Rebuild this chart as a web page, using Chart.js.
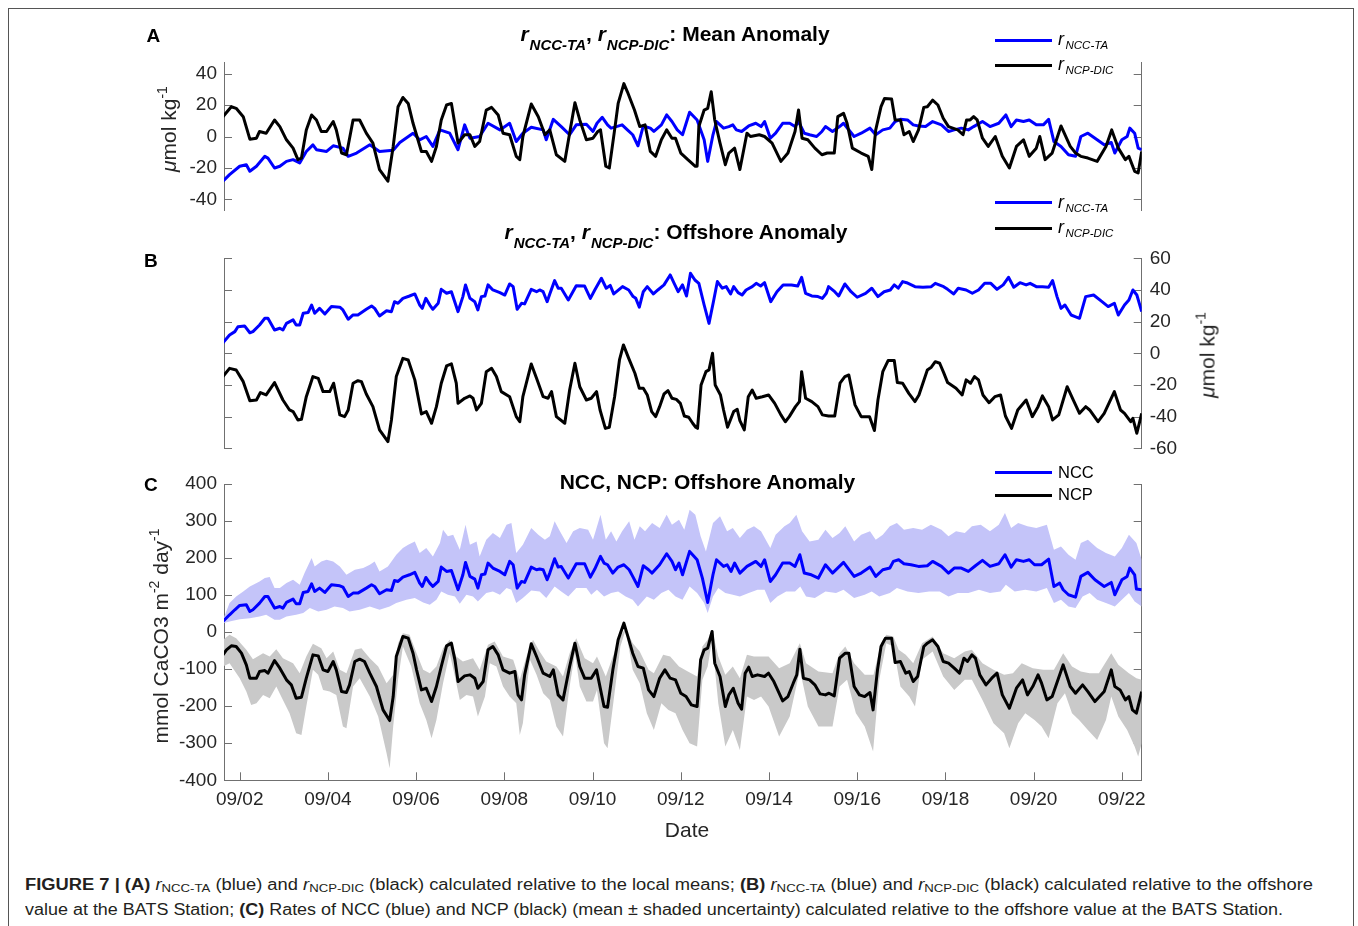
<!DOCTYPE html>
<html lang="en">
<head>
<meta charset="UTF-8">
<title>Figure 7 – rNCC-TA, rNCP-DIC, NCC and NCP anomalies</title>
<script src="https://cdn.jsdelivr.net/npm/chart.js"></script>
<style>
  body { margin: 0; background: #fff; font-family: "Liberation Sans", Arial, Helvetica, sans-serif; color: #262626; }
  #page { position: relative; width: 1358px; height: 926px; overflow: hidden; background: #fff; }
  #frame { position: absolute; left: 8px; top: 8px; width: 1344px; height: 1000px; border: 1px solid #555; border-bottom: none; }
  canvas { position: absolute; left: 0; }
  .txt { position: absolute; white-space: nowrap; line-height: 1; z-index: 2; }
  .ttl { font-weight: bold; font-size: 21px; transform: translateX(-50%); color: #000; }
  .ttl i { font-style: italic; }
  .ttl sub { font-size: 15px; font-style: italic; vertical-align: -9px; line-height: 0; margin-left: 1px; }
  .lbl { font-weight: bold; font-size: 19px; color: #000; }
  .leg { font-size: 18px; font-style: italic; color: #000; }
  .leg sub { font-size: 11.5px; vertical-align: -4.3px; line-height: 0; margin-left: 1.5px; }
  .leg2 { font-size: 16.5px; color: #000; }
  .legline { position: absolute; left: 995px; width: 57px; height: 3px; z-index: 2; }
  .ytl { font-size: 21px; transform: translate(-50%, -50%) rotate(-90deg); }
  .ytl sup { font-size: 14px; vertical-align: 9px; line-height: 0; }
  .cap { font-family: "Liberation Sans Narrow", "Liberation Sans", Arial, sans-serif; font-size: 16px; color: #231f20; transform-origin: 0 0; }
  .cap sub { font-size: 11.5px; vertical-align: -2px; line-height: 0; }
</style>
</head>
<body>
<div id="page">
  <div id="frame"></div>
  <canvas id="chartA"></canvas>
  <canvas id="chartB"></canvas>
  <canvas id="chartC"></canvas>

  <div class="txt lbl" style="left:146.5px; top:25.6px">A</div>
  <div class="txt lbl" style="left:144px; top:251.4px">B</div>
  <div class="txt lbl" style="left:144px; top:474.6px">C</div>

  <div class="txt ttl" style="left:675px; top:22.7px"><i>r</i><sub>NCC-TA</sub>, <i>r</i><sub>NCP-DIC</sub>: Mean Anomaly</div>
  <div class="txt ttl" style="left:676px; top:220.7px"><i>r</i><sub>NCC-TA</sub>, <i>r</i><sub>NCP-DIC</sub>: Offshore Anomaly</div>
  <div class="txt ttl" style="left:707.5px; top:470.7px">NCC, NCP: Offshore Anomaly</div>

  <div class="legline" style="top:38.5px; background:#0000ff"></div>
  <div class="txt leg" style="left:1058px; top:29.8px">r<sub>NCC-TA</sub></div>
  <div class="legline" style="top:63.5px; background:#000"></div>
  <div class="txt leg" style="left:1058px; top:54.8px">r<sub>NCP-DIC</sub></div>

  <div class="legline" style="top:201.2px; background:#0000ff"></div>
  <div class="txt leg" style="left:1058px; top:192.5px">r<sub>NCC-TA</sub></div>
  <div class="legline" style="top:226.8px; background:#000"></div>
  <div class="txt leg" style="left:1058px; top:218.1px">r<sub>NCP-DIC</sub></div>

  <div class="legline" style="top:471px; background:#0000ff"></div>
  <div class="txt leg2" style="left:1058px; top:464.3px">NCC</div>
  <div class="legline" style="top:493.5px; background:#000"></div>
  <div class="txt leg2" style="left:1058px; top:486px">NCP</div>

  <div class="txt ytl" style="left:168px; top:129px"><i>μ</i>mol kg<sup>-1</sup></div>
  <div class="txt ytl" style="left:1207px; top:355px"><i>μ</i>mol kg<sup>-1</sup></div>
  <div class="txt ytl" style="left:160px; top:636px">mmol CaCO3 m<sup>-2</sup> day<sup>-1</sup></div>
  <div class="txt" style="left:687px; top:818.9px; font-size:21px; transform:translateX(-50%)">Date</div>

  <div class="txt cap" id="cap1" style="left:25px; top:876.5px"><b>FIGURE 7 | (A)</b> <i>r</i><sub>NCC-TA</sub> (blue) and <i>r</i><sub>NCP-DIC</sub> (black) calculated relative to the local means; <b>(B)</b> <i>r</i><sub>NCC-TA</sub> (blue) and <i>r</i><sub>NCP-DIC</sub> (black) calculated relative to the offshore</div>
  <div class="txt cap" id="cap2" style="left:25px; top:901.5px">value at the BATS Station; <b>(C)</b> Rates of NCC (blue) and NCP (black) (mean ± shaded uncertainty) calculated relative to the offshore value at the BATS Station.</div>
</div>

<script>
// ticks and labels
const aTicks = [-40, -20, 0, 20, 40];
const bTicks = [-60, -40, -20, 0, 20, 40, 60];
const cTicks = [-400, -300, -200, -100, 0, 100, 200, 300, 400];
const dateTicks = [2, 4, 6, 8, 10, 12, 14, 16, 18, 20, 22];
const dateLabels = ['09/02', '09/04', '09/06', '09/08', '09/10', '09/12', '09/14', '09/16', '09/18', '09/20', '09/22'];

// [day of September, value]
// (A) mean anomaly, umol/kg
const aNcc = [[1.62,-28.4],[1.77,-24.2],[2.00,-18.9],[2.15,-17.9],[2.23,-22.1],[2.38,-18.9],[2.57,-12.6],[2.64,-13.7],[2.79,-20.0],[2.91,-18.9],[3.06,-15.8],[3.21,-14.7],[3.36,-16.8],[3.51,-9.5],[3.66,-5.3],[3.74,-8.4],[3.97,-9.5],[4.12,-5.9],[4.34,-7.4],[4.46,-12.6],[4.65,-10.5],[4.95,-5.3],[5.17,-9.5],[5.48,-8.8],[5.63,-3.8],[5.93,2.1],[6.08,-2.1],[6.23,0],[6.38,-6.3],[6.54,4.2],[6.76,2.1],[6.95,-8.4],[7.10,7.4],[7.22,-1.1],[7.44,0],[7.63,8.4],[7.90,4.2],[8.12,8.4],[8.27,-3.2],[8.42,2.1],[8.61,5.9],[8.88,4.2],[8.95,-2.1],[9.11,10.9],[9.29,6.3],[9.48,1.1],[9.63,7.4],[9.86,7.8],[10.01,3.2],[10.10,8.4],[10.22,12.2],[10.34,7.4],[10.42,5.3],[10.54,6.3],[10.67,7.4],[10.79,4.2],[10.91,1.1],[11.03,-5.9],[11.15,6.7],[11.31,5.3],[11.39,3.2],[11.56,7.4],[11.68,13.7],[11.80,9.5],[11.92,4.2],[12.04,1.1],[12.20,15.4],[12.37,10.5],[12.53,-2.1],[12.61,-15.8],[12.73,1.1],[12.81,9.5],[12.97,5.3],[13.09,6.3],[13.18,7.4],[13.26,4.2],[13.38,3.2],[13.54,6.7],[13.70,8.4],[13.82,6.3],[13.90,9.5],[14.03,-1.1],[14.15,2.1],[14.31,8.4],[14.47,8.4],[14.59,6.3],[14.67,9.5],[14.80,2.1],[14.92,1.1],[15.08,0],[15.20,3.2],[15.28,6.3],[15.44,3.2],[15.60,6.3],[15.69,8.4],[15.93,0],[16.09,2.1],[16.29,5.3],[16.42,1.1],[16.58,4.2],[16.74,5.3],[16.86,9.5],[16.98,10.9],[17.14,10.5],[17.27,7.4],[17.39,6.7],[17.55,6.3],[17.71,9.5],[17.91,7.4],[18.07,3.2],[18.20,4.2],[18.36,5.3],[18.52,4.2],[18.64,6.3],[18.84,9.5],[19.01,6.3],[19.21,8.4],[19.37,13.7],[19.49,6.3],[19.61,10.5],[19.77,9.5],[19.90,10.5],[20.06,7.4],[20.22,7.4],[20.34,10.9],[20.46,-3.2],[20.62,-6.3],[20.79,-11.6],[20.95,-12.6],[21.07,0],[21.23,2.1],[21.44,-2.1],[21.60,-5.3],[21.76,-3.8],[21.84,-10.5],[22.00,-2.1],[22.12,0],[22.18,5.3],[22.29,2.1],[22.37,-7.4],[22.45,-8.4]];
const aNcp = [[1.62,12.6],[1.81,18.9],[1.92,17.9],[2.08,12.6],[2.23,-1.7],[2.38,-1.1],[2.45,3.2],[2.60,2.1],[2.79,10.5],[2.91,6.3],[3.06,-2.1],[3.21,-7.4],[3.32,-14.7],[3.40,-13.7],[3.51,4.2],[3.63,13.7],[3.74,10.5],[3.85,3.2],[3.97,3.2],[4.12,9.5],[4.19,4.2],[4.31,-10.5],[4.42,-11.6],[4.57,10.5],[4.72,10.5],[4.87,2.1],[5.02,-4.2],[5.17,-21.0],[5.36,-28.4],[5.48,-6.3],[5.59,18.9],[5.70,24.8],[5.82,21.0],[5.93,8.4],[6.12,-9.5],[6.23,-9.5],[6.35,-15.8],[6.46,-6.3],[6.57,10.5],[6.69,20.0],[6.80,21.0],[6.95,-4.2],[7.10,1.1],[7.22,1.1],[7.33,-6.3],[7.44,-3.2],[7.59,16.8],[7.71,18.5],[7.86,13.7],[7.97,2.1],[8.12,1.1],[8.27,-12.6],[8.35,-14.7],[8.42,0],[8.61,20.6],[8.77,12.6],[8.92,1.1],[9.03,4.2],[9.18,-11.6],[9.37,-15.8],[9.48,2.1],[9.60,21.5],[9.71,10.5],[9.86,-2.1],[10.01,-1.1],[10.12,3.2],[10.18,4.2],[10.30,-18.9],[10.38,-20.0],[10.50,4.2],[10.58,21.0],[10.71,33.6],[10.79,28.4],[10.95,16.8],[11.07,6.3],[11.19,7.4],[11.31,-9.5],[11.43,-12.6],[11.56,-2.1],[11.68,4.2],[11.80,-1.1],[11.88,-1.1],[12.00,-10.5],[12.16,-14.7],[12.33,-18.9],[12.37,-18.9],[12.41,6.3],[12.53,16.8],[12.61,17.9],[12.69,28.4],[12.77,10.5],[12.89,-4.2],[13.01,-17.9],[13.09,-10.5],[13.22,-7.4],[13.34,-21.0],[13.50,2.1],[13.58,0],[13.78,1.1],[13.90,0],[14.07,-4.2],[14.27,-15.8],[14.43,-10.5],[14.59,3.2],[14.67,16.8],[14.75,-1.1],[14.88,-2.1],[15.04,-7.4],[15.20,-11.6],[15.32,-10.5],[15.48,-10.5],[15.56,12.6],[15.69,14.7],[15.77,8.4],[15.89,-7.4],[16.09,-10.5],[16.25,-12.6],[16.33,-21.0],[16.42,4.2],[16.54,19.0],[16.62,24.2],[16.78,23.8],[16.86,10.5],[16.98,10.5],[17.06,1.1],[17.18,3.2],[17.27,-3.2],[17.39,4.2],[17.51,18.5],[17.59,18.9],[17.71,23.1],[17.83,20.0],[17.95,11.6],[18.07,6.3],[18.28,4.2],[18.40,1.1],[18.48,10.5],[18.56,10.5],[18.64,12.6],[18.72,10.5],[18.84,-1.1],[18.97,-6.3],[19.13,0],[19.29,-12.6],[19.45,-20.0],[19.61,-6.3],[19.77,-2.1],[19.90,-12.6],[20.06,-7.4],[20.14,0],[20.26,-14.7],[20.42,-10.5],[20.62,6.7],[20.83,-6.3],[20.95,-10.5],[21.07,-12.6],[21.23,-13.7],[21.44,-15.8],[21.64,-6.3],[21.77,4.2],[21.92,-7.4],[22.08,-14.7],[22.16,-12.6],[22.29,-22.1],[22.37,-23.1],[22.45,-9.5]];

// (B) offshore anomaly, umol/kg
const bNcc = [[1.62,6.7],[1.77,11.6],[1.89,13.7],[1.96,16.8],[2.11,17.3],[2.23,13.0],[2.30,13.7],[2.45,17.9],[2.57,22.1],[2.64,22.1],[2.79,14.7],[2.91,15.8],[2.98,14.7],[3.06,18.9],[3.21,21.1],[3.28,17.9],[3.36,17.9],[3.44,25.3],[3.55,25.7],[3.63,30.5],[3.70,25.3],[3.81,28.4],[3.93,24.8],[4.08,29.5],[4.27,29.1],[4.34,27.4],[4.46,21.5],[4.57,24.2],[4.68,24.2],[4.87,27.8],[4.99,29.9],[5.06,28.4],[5.17,23.6],[5.33,26.9],[5.44,26.3],[5.51,32.6],[5.59,31.6],[5.70,34.7],[5.85,36.2],[5.97,37.5],[6.08,30.5],[6.14,28.4],[6.22,34.7],[6.31,30.5],[6.38,27.8],[6.50,31.6],[6.57,40.4],[6.69,37.9],[6.80,38.9],[6.95,26.3],[7.06,35.8],[7.12,43.2],[7.22,34.7],[7.33,32.6],[7.40,27.4],[7.48,35.8],[7.56,36.2],[7.63,43.2],[7.74,40.0],[7.90,38.3],[8.01,36.8],[8.12,43.8],[8.20,42.1],[8.29,27.8],[8.39,31.6],[8.46,31.2],[8.61,40.4],[8.73,38.9],[8.80,40.0],[8.88,38.9],[8.97,32.6],[9.03,37.5],[9.14,45.9],[9.22,41.1],[9.29,41.1],[9.45,33.7],[9.63,42.7],[9.82,42.5],[9.95,34.7],[10.05,40.0],[10.20,47.4],[10.31,41.1],[10.40,42.9],[10.48,37.5],[10.68,42.1],[10.82,40.0],[10.92,35.8],[10.98,34.7],[11.06,29.1],[11.15,38.9],[11.24,42.1],[11.38,37.5],[11.48,40.0],[11.62,43.2],[11.76,49.5],[11.85,44.2],[11.94,38.9],[12.04,43.2],[12.13,36.2],[12.22,50.5],[12.32,46.3],[12.41,44.2],[12.53,30.5],[12.64,18.9],[12.74,32.6],[12.83,45.3],[12.94,41.1],[13.03,42.1],[13.13,37.5],[13.20,42.1],[13.30,38.3],[13.39,36.8],[13.48,40.0],[13.62,42.1],[13.71,44.2],[13.81,42.5],[13.90,44.6],[14.04,32.6],[14.18,38.9],[14.32,43.2],[14.51,43.2],[14.65,42.5],[14.74,48.0],[14.83,37.9],[14.97,36.2],[15.11,35.8],[15.21,34.7],[15.30,37.9],[15.35,42.1],[15.49,38.9],[15.58,36.2],[15.72,43.8],[15.86,38.9],[16.00,35.4],[16.19,37.9],[16.33,41.1],[16.47,35.8],[16.61,38.9],[16.75,40.0],[16.84,43.2],[16.93,41.1],[17.03,45.3],[17.12,44.6],[17.31,42.1],[17.49,41.7],[17.68,42.1],[17.77,44.2],[17.96,42.1],[18.05,40.4],[18.19,37.5],[18.29,41.1],[18.47,40.0],[18.61,37.9],[18.75,40.0],[18.89,44.2],[19.03,44.2],[19.17,40.4],[19.31,43.2],[19.43,48.0],[19.55,41.7],[19.69,44.6],[19.83,43.2],[19.92,44.2],[20.06,42.1],[20.20,42.1],[20.34,41.7],[20.43,45.9],[20.53,35.8],[20.62,28.4],[20.71,30.5],[20.85,24.2],[20.94,23.2],[21.04,22.1],[21.18,35.8],[21.36,36.8],[21.55,32.6],[21.69,29.5],[21.83,31.6],[21.92,24.2],[22.06,30.5],[22.16,33.7],[22.25,40.0],[22.34,36.8],[22.45,26.3]];
const bNcp = [[1.62,-14.7],[1.77,-9.5],[1.92,-10.5],[2.08,-17.9],[2.23,-29.9],[2.38,-29.5],[2.47,-24.8],[2.60,-26.3],[2.79,-18.5],[2.98,-29.5],[3.13,-35.8],[3.21,-36.8],[3.32,-42.1],[3.40,-41.7],[3.51,-27.4],[3.66,-14.7],[3.78,-15.8],[3.89,-24.2],[4.04,-24.2],[4.13,-18.9],[4.27,-38.9],[4.38,-40.0],[4.46,-35.8],[4.57,-18.9],[4.68,-17.3],[4.76,-17.9],[4.87,-25.7],[5.02,-33.7],[5.17,-48.4],[5.36,-55.8],[5.44,-42.1],[5.55,-14.7],[5.70,-3.2],[5.82,-4.2],[5.97,-16.8],[6.12,-38.3],[6.23,-36.8],[6.35,-44.2],[6.46,-33.7],[6.57,-18.9],[6.69,-8.0],[6.80,-6.7],[6.91,-18.9],[6.95,-31.6],[7.10,-28.4],[7.22,-26.9],[7.29,-28.4],[7.37,-35.8],[7.48,-31.6],[7.59,-11.6],[7.71,-9.5],[7.82,-14.7],[7.93,-24.2],[8.12,-27.4],[8.27,-40.0],[8.35,-43.2],[8.42,-27.4],[8.61,-6.7],[8.73,-15.8],[8.88,-27.4],[8.99,-28.4],[9.07,-24.2],[9.18,-40.0],[9.37,-44.2],[9.48,-23.2],[9.60,-6.3],[9.71,-21.1],[9.86,-29.5],[9.97,-28.4],[10.09,-24.2],[10.17,-35.8],[10.29,-47.4],[10.38,-46.7],[10.50,-27.4],[10.61,-4.2],[10.70,5.3],[10.82,-3.2],[10.96,-12.6],[11.06,-22.1],[11.15,-22.1],[11.24,-26.3],[11.34,-36.8],[11.43,-40.0],[11.52,-33.7],[11.62,-25.7],[11.71,-23.6],[11.80,-28.4],[11.90,-29.1],[11.99,-31.6],[12.08,-39.6],[12.18,-40.4],[12.27,-44.2],[12.34,-46.7],[12.38,-47.4],[12.46,-20.0],[12.57,-11.6],[12.64,-10.5],[12.72,0],[12.78,-20.0],[12.90,-26.3],[12.97,-35.8],[13.06,-46.7],[13.20,-36.8],[13.28,-35.4],[13.34,-42.5],[13.44,-48.4],[13.53,-27.4],[13.62,-23.2],[13.71,-28.4],[13.85,-27.4],[13.99,-26.3],[14.13,-31.6],[14.27,-38.9],[14.37,-43.2],[14.46,-40.0],[14.60,-33.7],[14.69,-30.5],[14.74,-11.6],[14.83,-28.4],[14.97,-30.5],[15.11,-33.7],[15.21,-38.9],[15.35,-39.6],[15.49,-39.6],[15.61,-18.9],[15.72,-14.7],[15.81,-13.7],[15.95,-32.6],[16.09,-40.0],[16.28,-40.0],[16.39,-48.8],[16.47,-29.5],[16.58,-11.6],[16.70,-4.6],[16.84,-4.6],[16.91,-18.5],[17.03,-18.9],[17.17,-25.3],[17.31,-30.5],[17.40,-26.3],[17.59,-10.5],[17.68,-8.8],[17.77,-5.3],[17.87,-6.3],[17.96,-12.2],[18.05,-18.5],[18.24,-22.1],[18.38,-26.3],[18.47,-16.8],[18.57,-18.9],[18.66,-14.7],[18.75,-16.8],[18.85,-26.3],[18.99,-31.2],[19.12,-27.4],[19.25,-26.3],[19.36,-39.6],[19.50,-47.4],[19.64,-35.8],[19.83,-29.5],[19.97,-40.0],[20.10,-33.7],[20.20,-26.9],[20.34,-33.7],[20.43,-42.1],[20.57,-38.9],[20.76,-21.1],[20.90,-29.5],[21.04,-37.9],[21.18,-33.7],[21.27,-35.8],[21.46,-43.2],[21.60,-37.9],[21.83,-24.2],[21.97,-35.8],[22.06,-37.9],[22.20,-43.2],[22.25,-41.1],[22.34,-50.5],[22.45,-37.9]];

// (C) NCC, NCP offshore anomaly, mmol CaCO3 m-2 day-1 (line and shaded range)
const cNcc = [[1.62,28.8],[1.77,46.8],[1.89,60.4],[2.00,72.1],[2.15,73.9],[2.23,55.9],[2.30,60.4],[2.45,78.4],[2.57,96.4],[2.64,96.4],[2.79,64.9],[2.91,69.4],[2.98,64.9],[3.06,80.2],[3.21,89.2],[3.28,76.6],[3.36,76.6],[3.44,107.2],[3.55,109.9],[3.63,130.6],[3.70,109.9],[3.81,118.9],[3.93,107.2],[4.08,127.9],[4.27,125.2],[4.34,121.6],[4.46,96.4],[4.57,105.4],[4.68,105.4],[4.87,118.9],[4.99,127.9],[5.06,123.4],[5.17,103.6],[5.33,114.4],[5.44,112.6],[5.51,139.6],[5.59,136.9],[5.70,148.6],[5.85,154.9],[5.97,161.3],[6.08,132.4],[6.14,123.4],[6.22,147.7],[6.31,132.4],[6.38,123.4],[6.50,136.9],[6.57,175.7],[6.69,164.0],[6.80,166.7],[6.95,114.4],[7.06,154.9],[7.12,188.3],[7.22,150.5],[7.33,143.2],[7.40,118.9],[7.48,154.9],[7.56,156.8],[7.63,186.5],[7.74,173.0],[7.90,164.0],[8.01,154.9],[8.12,191.0],[8.20,182.0],[8.29,118.9],[8.39,136.9],[8.46,134.2],[8.61,175.7],[8.73,168.5],[8.80,170.3],[8.88,168.5],[8.97,141.4],[9.03,159.5],[9.14,198.2],[9.22,175.7],[9.29,177.5],[9.45,146.0],[9.63,184.7],[9.82,184.7],[9.95,148.6],[10.05,170.3],[10.18,204.5],[10.26,186.5],[10.34,182.0],[10.46,159.5],[10.58,175.7],[10.71,182.0],[10.83,168.5],[10.91,150.5],[11.03,123.4],[11.15,179.3],[11.27,168.5],[11.35,159.5],[11.52,182.0],[11.68,211.7],[11.80,191.0],[11.88,168.5],[11.96,186.5],[12.04,154.9],[12.20,218.0],[12.37,195.5],[12.49,145.9],[12.61,80.2],[12.73,154.9],[12.81,195.5],[12.97,177.5],[13.05,182.0],[13.14,164.0],[13.22,186.5],[13.34,159.5],[13.50,177.5],[13.70,191.0],[13.82,177.5],[13.90,195.5],[14.03,136.9],[14.15,154.9],[14.31,186.5],[14.47,186.5],[14.59,177.5],[14.70,209.0],[14.80,159.5],[14.96,154.9],[15.12,146.0],[15.28,182.0],[15.44,159.5],[15.69,188.3],[15.93,150.5],[16.09,159.5],[16.29,175.7],[16.42,150.5],[16.58,168.5],[16.74,173.0],[16.82,191.0],[16.94,195.5],[17.06,184.7],[17.22,182.0],[17.39,177.5],[17.59,179.3],[17.71,191.0],[17.91,177.5],[18.07,159.5],[18.20,173.0],[18.36,173.0],[18.52,164.0],[18.68,179.3],[18.84,193.7],[19.01,177.5],[19.21,184.7],[19.35,209.0],[19.49,175.7],[19.61,195.5],[19.77,191.0],[19.90,195.5],[20.02,182.0],[20.18,182.0],[20.34,197.3],[20.46,123.4],[20.59,132.4],[20.67,114.4],[20.79,101.0],[20.95,94.6],[21.07,150.5],[21.23,161.3],[21.39,141.4],[21.60,123.4],[21.76,134.2],[21.84,101.0],[22.00,141.4],[22.12,150.5],[22.18,173.0],[22.29,154.9],[22.33,116.2],[22.45,114.4]];
const cNccHi = [[1.62,33.3],[1.77,78.4],[1.92,96.4],[2.08,109.9],[2.23,123.4],[2.45,136.9],[2.57,145.9],[2.68,148.6],[2.79,118.9],[2.91,118.9],[3.06,132.4],[3.21,141.4],[3.36,127.9],[3.47,159.5],[3.63,200.0],[3.70,177.5],[3.85,191.0],[3.97,195.5],[4.12,191.0],[4.27,177.5],[4.42,154.9],[4.61,168.5],[4.80,173.0],[4.95,182.0],[5.06,191.0],[5.17,164.0],[5.36,177.5],[5.55,209.0],[5.70,227.0],[5.82,236.0],[5.97,245.0],[6.08,213.5],[6.23,227.0],[6.38,204.5],[6.54,240.5],[6.61,276.6],[6.72,258.6],[6.84,263.1],[6.99,222.5],[7.12,290.1],[7.22,236.0],[7.37,245.0],[7.44,204.5],[7.59,249.5],[7.74,267.6],[7.90,254.1],[8.05,290.1],[8.16,294.6],[8.27,213.5],[8.42,236.0],[8.61,281.1],[8.77,263.1],[8.92,249.5],[9.03,258.6],[9.14,299.1],[9.26,272.1],[9.41,240.5],[9.56,272.1],[9.71,281.1],[9.90,276.6],[10.01,249.5],[10.08,277.0],[10.18,317.1],[10.30,249.5],[10.42,272.1],[10.54,245.0],[10.67,272.1],[10.83,299.1],[10.95,249.5],[11.07,285.6],[11.19,272.1],[11.35,294.6],[11.52,281.1],[11.68,317.1],[11.80,290.1],[11.96,303.6],[12.08,276.6],[12.20,330.6],[12.33,317.1],[12.45,258.6],[12.57,218.0],[12.73,294.6],[12.89,312.6],[13.05,272.1],[13.18,281.1],[13.34,254.1],[13.50,276.6],[13.66,285.6],[13.82,272.1],[14.03,227.0],[14.15,263.1],[14.35,285.6],[14.47,294.6],[14.62,317.1],[14.75,272.1],[14.92,245.0],[15.12,249.5],[15.28,276.6],[15.44,254.1],[15.60,267.6],[15.73,285.6],[15.93,245.0],[16.09,263.1],[16.29,272.1],[16.42,249.5],[16.58,263.1],[16.74,285.6],[16.90,294.6],[17.06,276.6],[17.27,281.1],[17.47,276.6],[17.67,290.1],[17.91,276.6],[18.07,258.6],[18.24,272.1],[18.44,267.6],[18.60,285.6],[18.80,290.1],[19.01,272.1],[19.21,290.1],[19.35,321.6],[19.49,281.1],[19.65,294.6],[19.86,285.6],[20.06,281.1],[20.30,290.1],[20.46,222.5],[20.62,231.5],[20.79,209.0],[20.95,195.5],[21.07,240.5],[21.23,249.5],[21.44,227.0],[21.64,213.5],[21.84,204.5],[22.00,227.0],[22.16,263.1],[22.33,240.5],[22.45,195.5]];
const cNccLo = [[1.62,24.3],[1.77,28.8],[2.00,35.1],[2.23,37.8],[2.45,42.3],[2.60,46.8],[2.79,33.3],[2.91,33.3],[3.06,42.3],[3.28,46.8],[3.44,51.4],[3.59,64.9],[3.78,55.9],[3.97,60.4],[4.15,69.4],[4.34,64.9],[4.49,55.9],[4.72,60.4],[4.95,69.4],[5.17,60.4],[5.40,69.4],[5.55,78.4],[5.78,87.4],[5.97,91.9],[6.16,80.2],[6.31,73.9],[6.46,87.4],[6.57,109.9],[6.72,100.9],[6.88,96.4],[6.99,76.6],[7.14,100.9],[7.29,96.4],[7.40,82.9],[7.59,105.4],[7.74,109.9],[7.90,100.9],[8.05,118.9],[8.16,114.4],[8.27,78.4],[8.42,91.9],[8.61,112.6],[8.80,109.9],[8.95,91.9],[9.14,123.4],[9.29,109.9],[9.45,96.4],[9.63,118.9],[9.86,118.9],[9.97,100.9],[10.10,114.4],[10.26,96.4],[10.42,105.4],[10.58,109.9],[10.75,96.4],[10.91,87.4],[11.03,69.4],[11.23,96.4],[11.39,87.4],[11.56,105.4],[11.72,114.4],[11.88,96.4],[12.04,87.4],[12.20,123.4],[12.37,105.4],[12.53,78.4],[12.61,51.4],[12.73,96.4],[12.85,118.9],[13.01,105.4],[13.18,100.9],[13.34,96.4],[13.54,105.4],[13.74,114.4],[13.90,114.4],[14.03,78.4],[14.19,96.4],[14.39,109.9],[14.59,109.9],[14.71,123.4],[14.84,96.4],[15.04,91.9],[15.28,109.9],[15.52,105.4],[15.69,114.4],[15.93,91.9],[16.17,100.9],[16.33,109.9],[16.50,96.4],[16.74,105.4],[16.90,118.9],[17.14,109.9],[17.39,105.4],[17.63,109.9],[17.87,109.9],[18.07,96.4],[18.28,105.4],[18.52,105.4],[18.76,114.4],[19.01,105.4],[19.25,109.9],[19.37,127.9],[19.57,109.9],[19.81,114.4],[20.06,109.9],[20.30,118.9],[20.46,78.4],[20.62,87.4],[20.79,69.4],[20.95,64.9],[21.11,96.4],[21.27,105.4],[21.44,87.4],[21.64,78.4],[21.84,69.4],[22.04,91.9],[22.16,105.4],[22.29,82.9],[22.45,69.4]];
const cNcp = [[1.62,-61.3],[1.70,-47.7],[1.81,-36.9],[1.92,-38.7],[2.04,-56.8],[2.15,-88.3],[2.23,-124.3],[2.38,-124.3],[2.45,-106.3],[2.57,-103.6],[2.64,-110.8],[2.79,-76.6],[2.91,-97.3],[3.06,-128.8],[3.17,-142.3],[3.28,-178.4],[3.40,-175.7],[3.51,-124.3],[3.66,-61.3],[3.78,-64.0],[3.89,-101.8],[4.00,-106.3],[4.12,-79.3],[4.19,-101.8],[4.31,-160.4],[4.42,-163.1],[4.49,-142.3],[4.61,-79.3],[4.72,-73.0],[4.83,-79.3],[4.95,-110.8],[5.10,-146.8],[5.25,-209.9],[5.40,-238.7],[5.48,-173.9],[5.55,-65.8],[5.70,-11.7],[5.82,-16.2],[5.93,-56.8],[6.01,-101.8],[6.12,-155.9],[6.23,-151.4],[6.35,-187.4],[6.46,-146.8],[6.57,-92.8],[6.69,-36.9],[6.80,-29.7],[6.88,-74.8],[6.95,-133.3],[7.10,-118.0],[7.22,-115.3],[7.33,-124.3],[7.40,-151.4],[7.52,-133.3],[7.63,-47.7],[7.74,-38.7],[7.86,-61.3],[7.97,-101.8],[8.12,-110.8],[8.24,-106.3],[8.31,-169.4],[8.39,-182.9],[8.46,-115.3],[8.61,-31.5],[8.73,-65.8],[8.88,-110.8],[9.03,-119.8],[9.11,-101.8],[9.22,-169.4],[9.33,-182.9],[9.48,-92.8],[9.60,-29.7],[9.71,-92.8],[9.82,-124.3],[9.97,-124.3],[10.09,-101.8],[10.26,-200.9],[10.34,-202.7],[10.46,-101.8],[10.58,-20.7],[10.71,24.3],[10.79,-7.2],[10.91,-56.8],[11.03,-92.8],[11.15,-97.3],[11.27,-155.9],[11.39,-173.9],[11.52,-124.3],[11.64,-101.8],[11.76,-124.3],[11.88,-128.8],[12.00,-164.9],[12.12,-173.9],[12.24,-196.4],[12.37,-200.9],[12.45,-74.8],[12.53,-47.7],[12.61,-43.2],[12.71,1.8],[12.77,-83.8],[12.89,-119.8],[13.01,-200.9],[13.09,-169.4],[13.19,-151.4],[13.30,-191.9],[13.38,-208.1],[13.46,-110.8],[13.54,-94.6],[13.62,-119.8],[13.74,-115.3],[13.90,-119.8],[13.99,-110.8],[14.11,-133.3],[14.31,-185.6],[14.43,-173.9],[14.55,-137.8],[14.63,-115.3],[14.70,-45.9],[14.78,-124.3],[14.92,-128.8],[15.04,-142.3],[15.16,-166.7],[15.28,-169.4],[15.36,-164.9],[15.48,-172.1],[15.60,-70.3],[15.73,-56.8],[15.81,-56.8],[15.93,-146.8],[16.05,-169.4],[16.17,-173.9],[16.29,-163.1],[16.36,-209.9],[16.46,-101.8],[16.54,-38.7],[16.64,-16.2],[16.78,-16.2],[16.86,-82.0],[16.98,-79.3],[17.10,-110.8],[17.18,-106.3],[17.27,-133.3],[17.37,-119.8],[17.51,-38.7],[17.59,-29.7],[17.71,-20.7],[17.83,-38.7],[17.95,-79.3],[18.07,-83.8],[18.20,-97.3],[18.32,-110.8],[18.42,-70.3],[18.50,-79.3],[18.60,-61.3],[18.68,-70.3],[18.78,-115.3],[18.92,-142.3],[19.05,-124.3],[19.17,-110.8],[19.29,-169.4],[19.45,-205.4],[19.61,-151.4],[19.75,-128.8],[19.86,-169.4],[19.98,-146.8],[20.10,-115.3],[20.18,-137.8],[20.30,-182.9],[20.42,-173.9],[20.67,-88.3],[20.83,-146.8],[20.95,-164.9],[21.11,-142.3],[21.23,-160.4],[21.39,-187.4],[21.60,-160.4],[21.76,-101.8],[21.84,-146.8],[21.96,-155.9],[22.08,-182.9],[22.16,-173.9],[22.24,-209.9],[22.33,-218.9],[22.45,-160.4]];
const cNcpHi = [[1.62,-20.7],[1.77,-7.2],[1.92,-16.2],[2.15,-47.7],[2.30,-73.0],[2.53,-56.8],[2.68,-65.8],[2.83,-45.9],[2.98,-70.3],[3.21,-83.8],[3.36,-110.8],[3.51,-65.8],[3.66,-31.5],[3.85,-43.2],[3.97,-70.3],[4.12,-52.3],[4.27,-101.8],[4.42,-110.8],[4.61,-47.7],[4.76,-43.2],[4.95,-70.3],[5.14,-92.8],[5.33,-137.8],[5.48,-115.3],[5.59,-29.7],[5.70,-2.7],[5.85,-7.2],[6.01,-56.8],[6.16,-101.8],[6.31,-110.8],[6.46,-92.8],[6.61,-43.2],[6.76,-20.7],[6.91,-65.8],[7.06,-79.3],[7.29,-70.3],[7.44,-101.8],[7.63,-34.2],[7.78,-25.2],[7.97,-65.8],[8.20,-74.8],[8.35,-128.8],[8.50,-65.8],[8.65,-20.7],[8.80,-52.3],[8.95,-79.3],[9.18,-92.8],[9.33,-119.8],[9.48,-56.8],[9.63,-16.2],[9.82,-70.3],[10.01,-83.8],[10.10,-65.8],[10.30,-119.8],[10.46,-65.8],[10.63,-11.7],[10.75,10.8],[10.91,-29.7],[11.07,-52.3],[11.27,-101.8],[11.39,-110.8],[11.60,-61.3],[11.76,-65.8],[11.96,-92.8],[12.16,-106.3],[12.37,-119.8],[12.49,-38.7],[12.61,-20.7],[12.71,6.3],[12.85,-65.8],[13.01,-115.3],[13.18,-92.8],[13.34,-124.3],[13.50,-61.3],[13.66,-65.8],[13.99,-65.8],[14.23,-97.3],[14.47,-83.8],[14.70,-29.7],[14.84,-83.8],[15.12,-106.3],[15.44,-110.8],[15.60,-56.8],[15.73,-38.7],[15.93,-83.8],[16.17,-115.3],[16.37,-115.3],[16.54,-29.7],[16.66,-7.2],[16.82,-11.7],[16.94,-47.7],[17.10,-61.3],[17.27,-83.8],[17.47,-29.7],[17.71,-11.7],[17.95,-56.8],[18.20,-70.3],[18.44,-52.3],[18.60,-47.7],[18.84,-83.8],[19.09,-101.8],[19.33,-115.3],[19.53,-110.8],[19.73,-83.8],[19.98,-97.3],[20.22,-101.8],[20.46,-101.8],[20.67,-56.8],[20.87,-92.8],[21.07,-106.3],[21.27,-110.8],[21.48,-110.8],[21.76,-56.8],[21.92,-88.3],[22.16,-110.8],[22.33,-124.3],[22.45,-128.8]];
const cNcpLo = [[1.62,-92.8],[1.77,-83.8],[2.00,-124.3],[2.15,-160.4],[2.26,-196.4],[2.38,-191.9],[2.53,-169.4],[2.68,-178.4],[2.83,-146.8],[2.98,-182.9],[3.13,-218.9],[3.28,-272.9],[3.40,-277.5],[3.51,-200.9],[3.66,-101.8],[3.78,-115.3],[3.89,-155.9],[4.04,-160.4],[4.19,-169.4],[4.34,-254.9],[4.42,-259.5],[4.57,-146.8],[4.72,-124.3],[4.95,-173.9],[5.14,-227.9],[5.33,-327.0],[5.40,-367.6],[5.48,-254.9],[5.59,-128.8],[5.70,-38.7],[5.89,-92.8],[6.08,-191.9],[6.23,-236.9],[6.35,-286.5],[6.46,-236.9],[6.61,-137.8],[6.76,-56.8],[6.88,-119.8],[6.99,-182.9],[7.14,-169.4],[7.29,-173.9],[7.40,-227.9],[7.56,-173.9],[7.67,-83.8],[7.82,-92.8],[7.97,-146.8],[8.12,-173.9],[8.27,-191.9],[8.35,-277.5],[8.42,-245.9],[8.58,-74.8],[8.73,-115.3],[8.88,-164.9],[9.03,-182.9],[9.18,-254.9],[9.33,-281.9],[9.48,-146.8],[9.60,-56.8],[9.71,-146.8],[9.86,-187.4],[10.01,-187.4],[10.10,-155.9],[10.26,-300.0],[10.34,-313.5],[10.46,-200.9],[10.63,-38.7],[10.75,6.3],[10.91,-101.8],[11.07,-137.8],[11.23,-218.9],[11.39,-263.9],[11.56,-191.9],[11.72,-209.9],[11.88,-218.9],[12.04,-263.9],[12.20,-300.0],[12.37,-309.0],[12.49,-128.8],[12.61,-92.8],[12.71,-20.7],[12.85,-191.9],[13.01,-309.0],[13.18,-263.9],[13.34,-318.0],[13.50,-173.9],[13.66,-182.9],[13.82,-173.9],[13.99,-200.9],[14.23,-281.9],[14.47,-227.9],[14.70,-101.8],[14.88,-200.9],[15.12,-254.9],[15.28,-254.9],[15.44,-254.9],[15.60,-146.8],[15.77,-128.8],[15.97,-218.9],[16.17,-254.9],[16.36,-322.5],[16.50,-128.8],[16.66,-29.7],[16.82,-38.7],[16.98,-146.8],[17.18,-173.9],[17.31,-200.9],[17.47,-74.8],[17.71,-52.3],[17.95,-119.8],[18.20,-155.9],[18.44,-128.8],[18.60,-128.8],[18.84,-182.9],[19.09,-245.9],[19.33,-272.9],[19.45,-313.5],[19.65,-245.9],[19.81,-218.9],[20.02,-236.9],[20.18,-254.9],[20.34,-286.5],[20.54,-191.9],[20.71,-164.9],[20.87,-218.9],[21.03,-236.9],[21.23,-263.9],[21.44,-290.9],[21.64,-236.9],[21.76,-173.9],[21.92,-227.9],[22.12,-263.9],[22.29,-309.0],[22.37,-336.0],[22.45,-300.0]];

const FONT = '"Liberation Sans", Arial, Helvetica, sans-serif';
const AXIS = '#707070';
const TXT = '#262626';
const BLUE = '#0000ff';
const X_MIN = 1.644, X_MAX = 22.45;

function pts(a) { return a.map(p => ({ x: p[0], y: p[1] })); }
function line(a, color) {
  return { data: pts(a), borderColor: color, borderWidth: 3, pointRadius: 0, fill: false, tension: 0, borderJoinStyle: 'round' };
}
function band(hi, lo, color) {
  return [
    { data: pts(hi), borderColor: 'rgba(0,0,0,0)', borderWidth: 1, pointRadius: 0, fill: false },
    { data: pts(lo), borderColor: 'rgba(0,0,0,0)', borderWidth: 1, pointRadius: 0, fill: '-1', backgroundColor: color }
  ];
}
function yAxis(pos, min, max, vals, showLabels, width) {
  return {
    type: 'linear', position: pos, min: min, max: max,
    afterBuildTicks: s => { s.ticks = vals.map(v => ({ value: v })); },
    afterFit: s => { s.width = width; },
    ticks: { display: showLabels, padding: showLabels ? (pos === 'right' ? 8 : 7) : 0, color: TXT, font: { family: FONT, size: 19 }, callback: v => String(v) },
    grid: { display: false, drawTicks: false },
    border: { display: true, color: AXIS, width: 1 }
  };
}
function xHidden() { return { type: 'linear', min: X_MIN, max: X_MAX, display: false }; }

// matlab style ticks, pointing into the plot, under the data
const inTicks = {
  id: 'inTicks',
  beforeDatasetsDraw(chart) {
    const ctx = chart.ctx, a = chart.chartArea;
    ctx.save();
    ctx.strokeStyle = AXIS;
    ctx.lineWidth = 1;
    for (const id in chart.scales) {
      const s = chart.scales[id];
      if (!s.options.display) continue;
      for (const t of s.ticks) {
        const p = Math.round(s.getPixelForValue(t.value)) + 0.5;
        ctx.beginPath();
        if (s.axis === 'x') { ctx.moveTo(p, a.bottom); ctx.lineTo(p, a.bottom - 8); }
        else if (s.position === 'left') { ctx.moveTo(a.left, p); ctx.lineTo(a.left + 8, p); }
        else { ctx.moveTo(a.right, p); ctx.lineTo(a.right - 8, p); }
        ctx.stroke();
      }
    }
    ctx.restore();
  }
};

function makeChart(id, top, height, pad, datasets, scales) {
  const cv = document.getElementById(id);
  cv.width = 1358; cv.height = height;
  cv.style.width = '1358px'; cv.style.height = height + 'px'; cv.style.top = top + 'px';
  return new Chart(cv, {
    type: 'line',
    data: { datasets: datasets },
    options: {
      responsive: false, animation: false, events: [],
      layout: { padding: pad },
      plugins: { legend: { display: false }, tooltip: { enabled: false } },
      scales: scales
    },
    plugins: [inTicks]
  });
}

// plot area spans x 224 .. 1141.7 in every panel
makeChart('chartA', 37, 198, { left: 164, right: 196.3, top: 25.5, bottom: 24.5 },
  [line(aNcp, '#000'), line(aNcc, BLUE)],
  { x: xHidden(), y: yAxis('left', -47, 47, aTicks, true, 60), y2: yAxis('right', -47, 47, aTicks, false, 20) });

makeChart('chartB', 233, 240, { left: 164, right: 156.3, top: 25.3, bottom: 24.7 },
  [line(bNcp, '#000'), line(bNcc, BLUE)],
  { x: xHidden(), y: yAxis('left', -60, 60, bTicks, false, 60), y2: yAxis('right', -60, 60, bTicks, true, 60) });

makeChart('chartC', 459, 391, { left: 164, right: 196.3, top: 25, bottom: 24.7 },
  [line(cNcp, '#000'), line(cNcc, BLUE)].concat(band(cNccHi, cNccLo, '#c4c4f9'), band(cNcpHi, cNcpLo, '#c9c9c9')),
  {
    x: {
      type: 'linear', min: X_MIN, max: X_MAX,
      afterBuildTicks: s => { s.ticks = dateTicks.map(v => ({ value: v })); },
      afterFit: s => { s.height = 45; },
      ticks: { padding: 8, color: TXT, maxRotation: 0, autoSkip: false, font: { family: FONT, size: 19 }, callback: (v, i) => dateLabels[i] },
      grid: { display: false, drawTicks: false },
      border: { display: true, color: AXIS, width: 1 }
    },
    y: yAxis('left', -400, 400, cTicks, true, 60),
    y2: yAxis('right', -400, 400, cTicks, false, 20)
  });

// caption lines are set in a condensed face; squeeze to the printed width
[['cap1', 1288], ['cap2', 1258]].forEach(([id, w]) => {
  const el = document.getElementById(id);
  const k = w / el.getBoundingClientRect().width;
  el.style.transform = 'scaleX(' + k.toFixed(4) + ')';
});
</script>
</body>
</html>
